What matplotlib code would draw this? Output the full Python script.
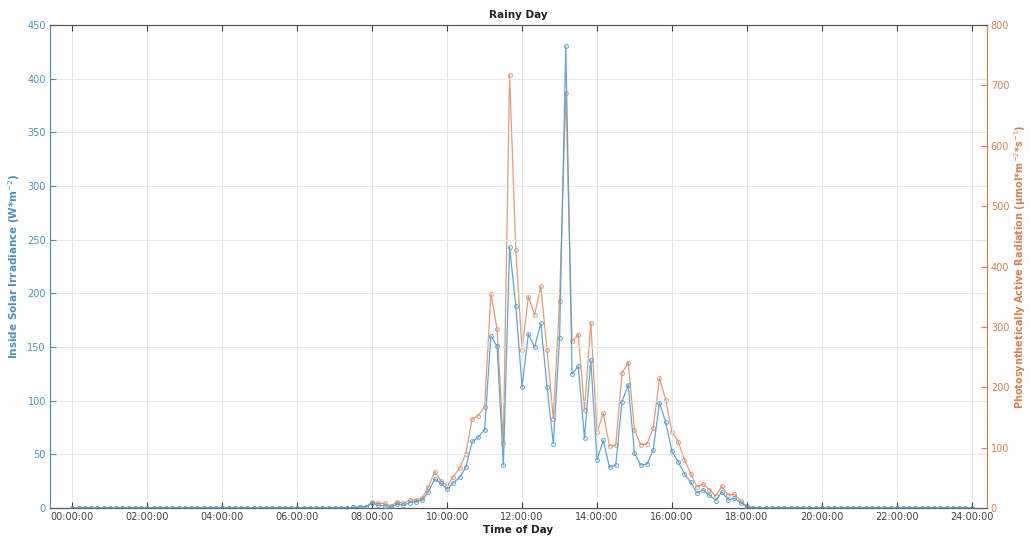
import numpy as np
import matplotlib
matplotlib.use("Agg")
import matplotlib.pyplot as plt

# sample times: every 10 minutes from 00:00 to 24:00 (hours)
time_hours = np.arange(145) / 6.0

# Inside Solar Irradiance (W*m^-2), 10-minute samples
irradiance = [
    0, 0, 0, 0, 0, 0, 0, 0, 0, 0, 0, 0,            # 00:00-01:50
    0, 0, 0, 0, 0, 0, 0, 0, 0, 0, 0, 0,            # 02:00-03:50
    0, 0, 0, 0, 0, 0, 0, 0, 0, 0, 0, 0,            # 04:00-05:50
    0, 0, 0, 0, 0, 0, 0, 0, 0.2, 0.5, 1, 1,        # 06:00-07:50
    4.5, 2.5, 2, 0.5, 4, 2.5, 5, 6, 7.5, 15, 27, 23,   # 08:00-09:50
    17.5, 23.5, 28.5, 38, 62, 66, 73, 160, 151, 40, 243, 188,  # 10:00-11:50
    113, 162, 150, 172, 113, 60, 158, 430, 125, 132, 65, 138,  # 12:00-13:50
    45, 63, 38, 40, 99, 115, 51, 40, 41, 54, 98, 80,   # 14:00-15:50
    53, 43, 32, 24, 14, 17, 12, 7, 15, 7.5, 9, 5,      # 16:00-17:50
    1, 0.3, 0, 0, 0, 0, 0, 0, 0, 0, 0, 0,          # 18:00-19:50
    0, 0, 0, 0, 0, 0, 0, 0, 0, 0, 0, 0,            # 20:00-21:50
    0, 0, 0, 0, 0, 0, 0, 0, 0, 0, 0, 0,            # 22:00-23:50
    0,                                             # 24:00
]

# Photosynthetically Active Radiation (umol*m^-2*s^-1)
par = [
    0, 0, 0, 0, 0, 0, 0, 0, 0, 0, 0, 0,
    0, 0, 0, 0, 0, 0, 0, 0, 0, 0, 0, 0,
    0, 0, 0, 0, 0, 0, 0, 0, 0, 0, 0, 0,
    0, 0, 0, 0, 0, 0, 0, 0, 0.5, 1, 2, 2,
    10.5, 7.7, 7.7, 3.3, 10.5, 7.7, 13, 14, 16, 35, 60, 45,
    37, 52, 66, 90, 148, 153, 168, 355, 296, 108, 717, 427,
    262, 350, 320, 367, 262, 148, 343, 688, 276, 287, 162, 307,
    126, 157, 103, 104, 223, 241, 129, 105, 106, 132, 215, 179,
    126, 110, 80, 57, 35, 40, 30, 20, 36, 21.5, 23, 12,
    3, 0.5, 0, 0, 0, 0, 0, 0, 0, 0, 0, 0,
    0, 0, 0, 0, 0, 0, 0, 0, 0, 0, 0, 0,
    0, 0, 0, 0, 0, 0, 0, 0, 0, 0, 0, 0,
    0,
]

xtick_hours = [0, 2, 4, 6, 8, 10, 12, 14, 16, 18, 20, 22, 24]
xtick_labels = ["00:00:00", "02:00:00", "04:00:00", "06:00:00", "08:00:00",
                "10:00:00", "12:00:00", "14:00:00", "16:00:00", "18:00:00",
                "20:00:00", "22:00:00", "24:00:00"]

BLUE = "#4d9fd3"
ORANGE = "#e48a5c"
BLUE_TXT = "#4a90c0"
ORANGE_TXT = "#d9804f"

fig = plt.figure(figsize=(10.31, 5.42), dpi=100)
ax = fig.add_axes([0.0485, 0.0627, 0.9085, 0.8912])
ax2 = ax.twinx()

ax2.plot(time_hours, par, color=ORANGE, lw=0.9, marker="o", ms=2.8,
         mfc="none", mew=0.7, alpha=0.85, zorder=2)
ax.plot(time_hours, irradiance, color=BLUE, lw=0.9, marker="o", ms=2.8,
        mfc="none", mew=0.7, alpha=0.9, zorder=3)
ax.set_zorder(ax2.get_zorder() + 1)
ax.patch.set_visible(False)

ax.set_xlim(-0.6, 24.4)
ax.set_ylim(0, 450)
ax2.set_ylim(0, 800)
ax.set_yticks(np.arange(0, 451, 50))
ax2.set_yticks(np.arange(0, 801, 100))
ax.set_xticks(xtick_hours)
ax.set_xticklabels(xtick_labels)

ax.grid(True, color="#e6e6e6", lw=0.7)
ax.tick_params(axis="x", direction="in", top=True, length=4, labelsize=7,
               colors="#404040", pad=3)
ax.tick_params(axis="y", direction="in", length=4, labelsize=7,
               colors=BLUE_TXT, pad=3)
ax2.tick_params(axis="y", direction="in", length=4, labelsize=7,
                colors=ORANGE_TXT, pad=3)

for a in (ax, ax2):
    a.spines["top"].set_color("#555555")
    a.spines["bottom"].set_color("#555555")
    a.spines["left"].set_color(BLUE_TXT)
    a.spines["right"].set_color(ORANGE_TXT)
    for s in a.spines.values():
        s.set_linewidth(0.8)

ax.set_title("Rainy Day", fontsize=7.5, fontweight="bold", pad=5, color="#222222")
ax.set_xlabel("Time of Day", fontsize=7.5, fontweight="bold", labelpad=2, color="#222222")
ax.set_ylabel("Inside Solar Irradiance (W*m$^{-2}$)", fontsize=7.5,
              fontweight="bold", color=BLUE_TXT, labelpad=4)
ax2.set_ylabel("Photosynthetically Active Radiation (μmol*m$^{-2}$*s$^{-1}$)",
               fontsize=7, fontweight="bold", color=ORANGE_TXT, labelpad=2)

fig.savefig("out.png", dpi=100)
